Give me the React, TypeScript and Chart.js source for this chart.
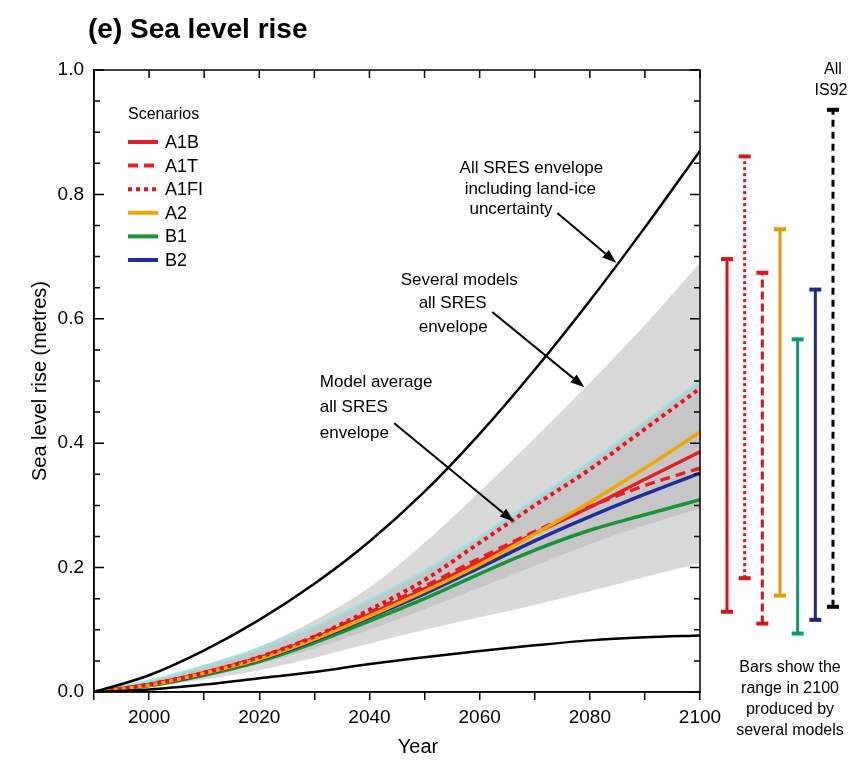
import React, { useEffect, useRef } from 'react';
import { Chart, registerables } from 'chart.js';

Chart.register(...registerables);

const FONT = '"Liberation Sans", Arial, Helvetica, sans-serif';

// ---------- data ----------
const years = [1990, 2000, 2010, 2020, 2030, 2040, 2050, 2060, 2070, 2080, 2090, 2100];
const a1b = [0, 0.012, 0.031, 0.055, 0.087, 0.125, 0.166, 0.21, 0.255, 0.297, 0.342, 0.386];
const a1t = [0, 0.012, 0.031, 0.056, 0.089, 0.128, 0.17, 0.215, 0.258, 0.298, 0.332, 0.36];
const a1fi = [0, 0.012, 0.031, 0.056, 0.089, 0.132, 0.18, 0.24, 0.3, 0.358, 0.423, 0.488];
const a2 = [0, 0.011, 0.03, 0.053, 0.085, 0.122, 0.162, 0.205, 0.254, 0.305, 0.36, 0.418];
const b1 = [0, 0.01, 0.027, 0.049, 0.079, 0.114, 0.15, 0.19, 0.228, 0.26, 0.285, 0.309];
const b2 = [0, 0.011, 0.029, 0.052, 0.083, 0.12, 0.158, 0.2, 0.243, 0.282, 0.318, 0.352];
const landIceHigh = [0, 0.027, 0.067, 0.116, 0.174, 0.242, 0.322, 0.415, 0.518, 0.629, 0.747, 0.87];
const landIceLow = [0, 0.004, 0.012, 0.022, 0.032, 0.045, 0.056, 0.066, 0.075, 0.083, 0.088, 0.091];
const modelsHigh = [0, 0.016, 0.04, 0.073, 0.115, 0.168, 0.24, 0.322, 0.408, 0.497, 0.59, 0.69];
const modelsLow = [0, 0.008, 0.02, 0.035, 0.055, 0.078, 0.1, 0.12, 0.14, 0.162, 0.185, 0.207];
const averageHigh = [0, 0.018, 0.042, 0.07, 0.105, 0.148, 0.195, 0.25, 0.31, 0.37, 0.435, 0.5];
const averageLow = [0, 0.01, 0.025, 0.045, 0.07, 0.1, 0.133, 0.168, 0.203, 0.238, 0.268, 0.295];

const legendOrder = ['A1B', 'A1T', 'A1FI', 'A2', 'B1', 'B2'];
const xTickLabels = [2000, 2020, 2040, 2060, 2080, 2100];
const yTickLabels = ['0.0', '0.2', '0.4', '0.6', '0.8', '1.0'];

const barNames = ['A1B', 'A1FI', 'A1T', 'A2', 'B1', 'B2', 'IS92'];
const barLow = [0.129, 0.183, 0.11, 0.155, 0.094, 0.116, 0.137];
const barHigh = [0.696, 0.861, 0.674, 0.744, 0.567, 0.647, 0.936];

const noteLines1 = ['All SRES envelope', 'including land-ice', 'uncertainty'];
const noteLines2 = ['Several models', 'all SRES', 'envelope'];
const noteLines3 = ['Model average', 'all SRES', 'envelope'];
const barNoteLines = ['Bars show the', 'range in 2100', 'produced by', 'several models'];
const is92Lines = ['All', 'IS92'];

// ---------- styles ----------
const RED = '#ea1c24';
const styles: Record<string, { color: string; dash: number[]; width: number }> = {
  A1B: { color: RED, dash: [], width: 3.5 },
  A1T: { color: RED, dash: [10, 6], width: 3.5 },
  A1FI: { color: '#e3141c', dash: [4, 4], width: 4 },
  A2: { color: '#f2a500', dash: [], width: 3.5 },
  B1: { color: '#169436', dash: [], width: 3.5 },
  B2: { color: '#1d2f9c', dash: [], width: 3.5 },
};
const barStyles: Record<string, { color: string; dash: number[] }> = {
  A1B: { color: '#d8141c', dash: [] },
  A1FI: { color: '#d8141c', dash: [3, 3] },
  A1T: { color: '#d8141c', dash: [8, 4] },
  A2: { color: '#e39a00', dash: [] },
  B1: { color: '#0a9a6e', dash: [] },
  B2: { color: '#1c2a86', dash: [] },
  IS92: { color: '#000000', dash: [7, 5] },
};

const pts = (arr: number[]) => years.map((yr, i) => ({ x: yr, y: arr[i] }));
const isMajor = (v: number) => Math.abs(v * 5 - Math.round(v * 5)) < 1e-6;

// ---------- plugins ----------
const framePlugin = {
  id: 'frame',
  afterDatasetsDraw(chart: any) {
    const { ctx, chartArea: a, scales } = chart;
    const x = scales.x;
    const y = scales.y;
    ctx.save();
    ctx.strokeStyle = '#000';
    ctx.lineWidth = 1.5;
    ctx.strokeRect(a.left, a.top, a.right - a.left, a.bottom - a.top);
    ctx.beginPath();
    for (const t of y.ticks) {
      const py = y.getPixelForValue(t.value);
      const len = isMajor(t.value) ? 10 : 6;
      ctx.moveTo(a.left, py);
      ctx.lineTo(a.left + len, py);
      ctx.moveTo(a.right, py);
      ctx.lineTo(a.right - len, py);
    }
    for (const t of x.ticks) {
      const px = x.getPixelForValue(t.value);
      ctx.moveTo(px, a.top);
      ctx.lineTo(px, a.top + 8);
    }
    ctx.stroke();
    ctx.restore();
  },
};

const titlePlugin = {
  id: 'pageTitle',
  afterDraw(chart: any, _args: any, opts: any) {
    const { ctx, chartArea } = chart;
    ctx.save();
    ctx.fillStyle = '#000';
    ctx.textAlign = 'left';
    ctx.textBaseline = 'middle';
    ctx.font = `bold 28px ${FONT}`;
    ctx.fillText(opts.text, opts.left, opts.top);
    ctx.textAlign = 'center';
    ctx.font = `20px ${FONT}`;
    ctx.fillText(opts.xTitle, (chartArea.left + chartArea.right) / 2 + opts.xTitleShift, chartArea.bottom + opts.xTitleDrop);
    ctx.restore();
  },
};

const legendPlugin = {
  id: 'scenarioLegend',
  afterDraw(chart: any, _args: any, opts: any) {
    const { ctx, chartArea } = chart;
    const x0 = chartArea.left + opts.dx;
    const y0 = chartArea.top + opts.dy;
    ctx.save();
    ctx.fillStyle = '#000';
    ctx.textAlign = 'left';
    ctx.textBaseline = 'middle';
    ctx.font = `16px ${FONT}`;
    ctx.fillText(opts.title, x0, y0);
    legendOrder.forEach((name, i) => {
      const ds = chart.data.datasets.find((d: any) => d.label === name);
      const yy = y0 + opts.firstRow + i * opts.rowGap;
      ctx.strokeStyle = ds.borderColor;
      ctx.lineWidth = 4;
      ctx.setLineDash(ds.borderDash || []);
      ctx.beginPath();
      ctx.moveTo(x0, yy);
      ctx.lineTo(x0 + 30, yy);
      ctx.stroke();
      ctx.setLineDash([]);
      ctx.font = `18px ${FONT}`;
      ctx.fillText(name, x0 + 37, yy + 1);
    });
    ctx.restore();
  },
};

function arrow(ctx: CanvasRenderingContext2D, x1: number, y1: number, x2: number, y2: number) {
  const ang = Math.atan2(y2 - y1, x2 - x1);
  const head = 14;
  const half = 5;
  const bx = x2 - Math.cos(ang) * head;
  const by = y2 - Math.sin(ang) * head;
  ctx.beginPath();
  ctx.moveTo(x1, y1);
  ctx.lineTo(bx, by);
  ctx.stroke();
  ctx.beginPath();
  ctx.moveTo(x2, y2);
  ctx.lineTo(bx + Math.sin(ang) * half, by - Math.cos(ang) * half);
  ctx.lineTo(bx - Math.sin(ang) * half, by + Math.cos(ang) * half);
  ctx.closePath();
  ctx.fill();
}

const notesPlugin = {
  id: 'notes',
  afterDraw(chart: any, _args: any, opts: any) {
    const { ctx, scales } = chart;
    const x = scales.x;
    const y = scales.y;
    ctx.save();
    ctx.fillStyle = '#000';
    ctx.strokeStyle = '#000';
    ctx.lineWidth = 2;
    ctx.font = `17px ${FONT}`;
    ctx.textBaseline = 'middle';
    for (const n of opts.texts) {
      ctx.textAlign = n.align;
      ctx.fillText(n.text, x.getPixelForValue(n.x), y.getPixelForValue(n.y));
    }
    for (const a of opts.arrows) {
      arrow(ctx, x.getPixelForValue(a.from[0]), y.getPixelForValue(a.from[1]), x.getPixelForValue(a.to[0]), y.getPixelForValue(a.to[1]));
    }
    ctx.restore();
  },
};

const barTextPlugin = {
  id: 'barText',
  afterDraw(chart: any) {
    const { ctx, chartArea, scales } = chart;
    const x = scales.x;
    const y = scales.y;
    ctx.save();
    ctx.fillStyle = '#000';
    ctx.textAlign = 'center';
    ctx.textBaseline = 'middle';
    ctx.font = `16px ${FONT}`;
    const last = barNames.length - 1;
    const lx = x.getPixelForValue(last);
    const top = y.getPixelForValue(barHigh[last]);
    ctx.fillText(is92Lines[0], lx, top - 40);
    ctx.fillText(is92Lines[1], lx - 2, top - 19);
    const cx = (chartArea.left + chartArea.right) / 2 + 10;
    barNoteLines.forEach((t, i) => ctx.fillText(t, cx, chartArea.bottom - 24 + i * 21));
    ctx.restore();
  },
};

// ---------- component ----------
export default function App() {
  const mainRef = useRef<HTMLCanvasElement>(null);
  const barRef = useRef<HTMLCanvasElement>(null);

  useEffect(() => {
    document.body.style.margin = '0';
    Chart.defaults.font.family = FONT;
    Chart.defaults.color = '#000';

    const line = (name: string, arr: number[], order: number) => ({
      label: name,
      data: pts(arr),
      borderColor: styles[name].color,
      backgroundColor: styles[name].color,
      borderWidth: styles[name].width,
      borderDash: styles[name].dash,
      pointRadius: 0,
      fill: false,
      cubicInterpolationMode: 'monotone',
      order,
    });
    const edge = (name: string, arr: number[], order: number, fill: any, bg: string, border = 'rgba(0,0,0,0)', bw = 0) => ({
      label: name,
      data: pts(arr),
      borderColor: border,
      borderWidth: bw,
      backgroundColor: bg,
      pointRadius: 0,
      fill,
      cubicInterpolationMode: 'monotone',
      order,
    });
    const black = (name: string, arr: number[]) => ({
      label: name,
      data: pts(arr),
      borderColor: '#000',
      borderWidth: 2.5,
      pointRadius: 0,
      fill: false,
      cubicInterpolationMode: 'monotone',
      order: 1,
    });

    const main = new Chart(mainRef.current as HTMLCanvasElement, {
      type: 'line',
      data: {
        datasets: [
          edge('Several models all SRES envelope (upper)', modelsHigh, 20, '+1', '#d9d9d9'),
          edge('Several models all SRES envelope (lower)', modelsLow, 19, false, 'rgba(0,0,0,0)'),
          edge('Model average all SRES envelope (upper)', averageHigh, 18, '+1', '#c6c6c6', 'rgba(150,228,232,0.9)', 2.5),
          edge('Model average all SRES envelope (lower)', averageLow, 17, false, 'rgba(0,0,0,0)'),
          line('B1', b1, 9),
          line('B2', b2, 8),
          line('A1T', a1t, 7),
          line('A1B', a1b, 6),
          line('A2', a2, 5),
          line('A1FI', a1fi, 4),
          black('All SRES envelope including land-ice uncertainty (upper)', landIceHigh),
          black('All SRES envelope including land-ice uncertainty (lower)', landIceLow),
        ] as any,
      },
      options: {
        responsive: false,
        animation: false,
        devicePixelRatio: 1,
        layout: { padding: { left: 0, right: 160, top: 70, bottom: 0 } },
        plugins: {
          legend: { display: false },
          tooltip: { enabled: false },
          pageTitle: { text: '(e) Sea level rise', left: 88, top: 30, xTitle: 'Year', xTitleShift: 21, xTitleDrop: 55 },
          scenarioLegend: { title: 'Scenarios', dx: 34, dy: 45, firstRow: 27, rowGap: 23.6 },
          notes: {
            texts: [
              { text: noteLines1[0], x: 2069.4, y: 0.842, align: 'center' },
              { text: noteLines1[1], x: 2069.2, y: 0.808, align: 'center' },
              { text: noteLines1[2], x: 2065.7, y: 0.776, align: 'center' },
              { text: noteLines2[0], x: 2056.3, y: 0.662, align: 'center' },
              { text: noteLines2[1], x: 2055.1, y: 0.625, align: 'center' },
              { text: noteLines2[2], x: 2055.2, y: 0.587, align: 'center' },
              { text: noteLines3[0], x: 2031.0, y: 0.498, align: 'left' },
              { text: noteLines3[1], x: 2031.0, y: 0.457, align: 'left' },
              { text: noteLines3[2], x: 2031.0, y: 0.416, align: 'left' },
            ],
            arrows: [
              { from: [2074.1, 0.77], to: [2084.8, 0.69] },
              { from: [2062.3, 0.611], to: [2079.0, 0.49] },
              { from: [2044.5, 0.432], to: [2066.2, 0.274] },
            ],
          },
        } as any,
        scales: {
          x: {
            type: 'linear',
            min: 1990,
            max: 2100,
            ticks: {
              stepSize: 10,
              autoSkip: false,
              maxRotation: 0,
              color: '#000',
              font: { size: 19 },
              padding: 6,
              callback: (v: any) => (xTickLabels.includes(Number(v)) ? String(v) : ''),
            },
            grid: { drawOnChartArea: false, drawTicks: true, tickLength: 8, color: '#000', lineWidth: 1.5 },
            border: { display: true, color: '#000', width: 1.5 },
            afterFit: (s: any) => {
              s.height = 76;
            },
          },
          y: {
            type: 'linear',
            min: 0,
            max: 1,
            ticks: {
              stepSize: 0.05,
              autoSkip: false,
              color: '#000',
              font: { size: 19 },
              padding: 10,
              callback: (v: any) => {
                const s = Number(v).toFixed(1);
                return isMajor(Number(v)) && yTickLabels.includes(s) ? s : '';
              },
            },
            grid: { display: false, drawTicks: false },
            border: { display: true, color: '#000', width: 1.5 },
            title: { display: true, text: 'Sea level rise (metres)', font: { size: 20 }, color: '#000', padding: { top: 28, bottom: 0 } },
            afterFit: (s: any) => {
              s.width = 94;
            },
          },
        } as any,
      },
      plugins: [framePlugin, titlePlugin, legendPlugin, notesPlugin],
    });

    const bars = new Chart(barRef.current as HTMLCanvasElement, {
      type: 'line',
      data: {
        labels: barNames,
        datasets: barNames.map((name, i) => ({
          label: name,
          data: [
            { x: name, y: barLow[i] },
            { x: name, y: barHigh[i] },
          ],
          borderColor: barStyles[name].color,
          borderDash: barStyles[name].dash,
          borderWidth: 3,
          pointStyle: 'line',
          pointRadius: 6,
          pointBorderWidth: 4,
          pointBorderColor: barStyles[name].color,
          pointBackgroundColor: barStyles[name].color,
          clip: false,
        })) as any,
      },
      options: {
        responsive: false,
        animation: false,
        devicePixelRatio: 1,
        layout: { padding: { left: 27, right: 27, top: 70, bottom: 76 } },
        plugins: { legend: { display: false }, tooltip: { enabled: false } },
        scales: {
          x: { type: 'category', display: false },
          y: { type: 'linear', min: 0, max: 1, display: false },
        },
      },
      plugins: [barTextPlugin],
    });

    return () => {
      main.destroy();
      bars.destroy();
    };
  }, []);

  return (
    <div style={{ position: 'relative', width: 860, height: 768, background: '#fff' }}>
      <canvas ref={mainRef} width={860} height={768} style={{ position: 'absolute', left: 0, top: 0 }} />
      <canvas ref={barRef} width={160} height={768} style={{ position: 'absolute', left: 700, top: 0 }} />
    </div>
  );
}
